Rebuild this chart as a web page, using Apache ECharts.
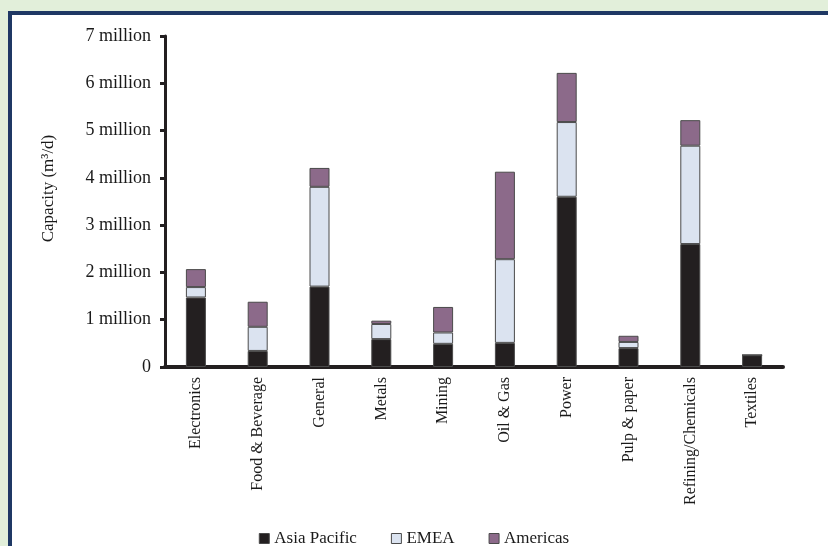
<!DOCTYPE html>
<html>
<head>
<meta charset="utf-8">
<style>
  html, body { margin: 0; padding: 0; }
  body { width: 828px; height: 546px; background: #e2efda; position: relative; overflow: hidden; }
  #panel { position: absolute; left: 8px; top: 11px; width: 900px; height: 600px;
           background: #ffffff; border-top: 4px solid #1f3864; border-left: 4px solid #1f3864; }
  #chart { position: absolute; left: 0; top: 0; width: 828px; height: 546px; }
</style>
<script src="https://cdn.jsdelivr.net/npm/echarts@6/dist/echarts.min.js"></script>
</head>
<body>
<div id="panel"></div>
<div id="chart"></div>
<script>
// Installed desalination capacity by end-use sector, in millions of m3/d
const sectors = ['Electronics', 'Food & Beverage', 'General', 'Metals', 'Mining',
                 'Oil & Gas', 'Power', 'Pulp & paper', 'Refining/Chemicals', 'Textiles'];
const asiaPacific = [1.47, 0.34, 1.70, 0.59, 0.49, 0.51, 3.60, 0.40, 2.60, 0.25];
const emea        = [0.22, 0.51, 2.11, 0.32, 0.24, 1.77, 1.58, 0.13, 2.08, 0];
const americas    = [0.38, 0.53, 0.40, 0.07, 0.54, 1.85, 1.04, 0.13, 0.54, 0];
const seriesNames = ['Asia Pacific', 'EMEA', 'Americas'];
const yTicks = [0, 1, 2, 3, 4, 5, 6, 7];

const serif = '"Liberation Serif", "Times New Roman", serif';
const colors = ['#231f20', '#dbe3f0', '#8c6a8a'];

const chart = echarts.init(document.getElementById('chart'), null, { renderer: 'canvas' });

function barSeries(name, data, color) {
  return {
    name: name,
    type: 'bar',
    stack: 'total',
    barWidth: 20,
    data: data,
    itemStyle: { color: color, borderColor: '#4a4a4a', borderWidth: 1 },
    emphasis: { disabled: true }
  };
}

chart.setOption({
  backgroundColor: 'transparent',
  animation: false,
  grid: { left: 165, right: 45, top: 36, bottom: 179, containLabel: false },
  legend: {
    data: seriesNames,
    bottom: -6,
    left: 'center',
    icon: 'rect',
    itemWidth: 10,
    itemHeight: 10,
    itemGap: 34,
    textStyle: { fontFamily: serif, fontSize: 17, color: '#1a1a1a' },
    itemStyle: { borderColor: '#4a4a4a', borderWidth: 1 }
  },
  xAxis: {
    type: 'category',
    data: sectors,
    axisLine: { lineStyle: { color: '#231f20', width: 4 } },
    axisTick: { show: false },
    axisLabel: { interval: 0, rotate: 90, margin: 10, fontFamily: serif, fontSize: 16, color: '#1a1a1a' }
  },
  yAxis: {
    type: 'value',
    min: yTicks[0],
    max: yTicks[yTicks.length - 1],
    interval: 1,
    name: 'Capacity (m³/d)',
    nameLocation: 'middle',
    nameGap: 108,
    nameTextStyle: { fontFamily: serif, fontSize: 17, color: '#1a1a1a', padding: [0, 0, 0, 26] },
    splitLine: { show: false },
    axisLine: { show: true, lineStyle: { color: '#231f20', width: 3 } },
    axisTick: { show: true, length: 5, lineStyle: { color: '#231f20', width: 3 } },
    axisLabel: {
      margin: 14, fontFamily: serif, fontSize: 18, color: '#1a1a1a',
      formatter: v => v === 0 ? '0' : v + ' million'
    }
  },
  series: [
    barSeries(seriesNames[0], asiaPacific, colors[0]),
    barSeries(seriesNames[1], emea, colors[1]),
    barSeries(seriesNames[2], americas, colors[2])
  ]
});
</script>
</body>
</html>
